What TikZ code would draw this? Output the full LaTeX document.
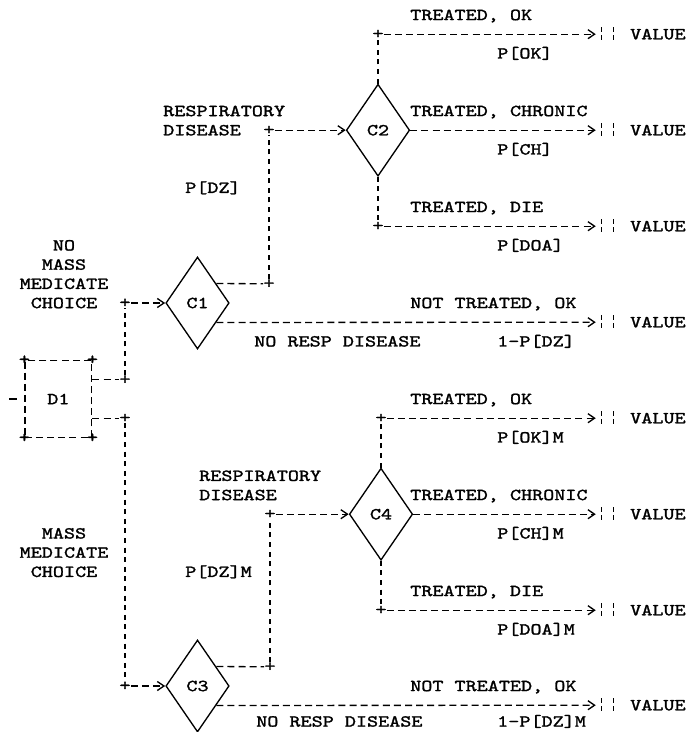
\documentclass[tikz,border=0pt]{standalone}
\usepackage{fontspec}
\usetikzlibrary{shapes.geometric,arrows.meta}
\newfontfamily\prt{lmmono10-regular.otf}[FakeStretch=1.26,FakeBold=1.6]

\begin{document}
\begin{tikzpicture}[x=0.3mm, y=-0.3mm,
    font=\prt\fontsize{14.3pt}{16.4pt}\selectfont,
    lbl/.style={inner sep=0pt, anchor=west, text height=8.7pt, text depth=0pt},
    blk/.style={inner sep=0pt, align=center},
    chance/.style={diamond, draw, line width=0.4mm, minimum width=19mm,
                   minimum height=27.6mm, inner sep=0pt},
    choice/.style={draw, line width=0.4mm, dash pattern=on 2.1mm off 1.23mm,
                   minimum width=20mm, minimum height=23mm, inner sep=0pt},
    plus/.style={inner sep=0pt},
    hlink/.style={line width=0.4mm, dash pattern=on 2.1mm off 1.23mm},
    vlink/.style={line width=0.4mm, dash pattern=on 1.5mm off 1.38mm},
    arr/.style={hlink, -{Straight Barb[length=2mm, width=2.7mm]}},
    tarr/.style={arr, shorten >=1.8mm},
    bar/.style={line width=0.4mm, dash pattern=on 1.5mm off 0.9mm},
    term/.style={minimum width=3.3mm, minimum height=3.9mm, inner sep=0pt,
      append after command={(\tikzlastnode.north west) edge[bar] (\tikzlastnode.south west)
                            (\tikzlastnode.north east) edge[bar] (\tikzlastnode.south east)}}
  ]
  \useasboundingbox (0,0) rectangle (692,732);
  % Decision and chance nodes
  \node[choice] (D1) at (58.4,399) {D1};
  \foreach \a [count=\k] in {north west,north east,south west,south east}
    \node[plus] (c\k) at (D1.\a) {+};
  \node[chance] (C1) at (197.5,303)   {C1};
  \node[chance] (C2) at (378,130.2)   {C2};
  \node[chance] (C3) at (197.5,686)   {C3};
  \node[chance] (C4) at (381,514.2)   {C4};
  % Junctions
  \node[plus] (jA) at (125,379.8) {+};
  \node[plus] (jB) at (125,418.2) {+};
  \node[plus] (jC) at (125,303)   {+};
  \node[plus] (jD) at (125,686)   {+};
  \node[plus] (jE) at (269,283.8) {+};
  \node[plus] (jF) at (269,130.2) {+};
  \node[plus] (jG) at (378,34.2)  {+};
  \node[plus] (jH) at (378,226.2) {+};
  \node[plus] (jI) at (270,666.8) {+};
  \node[plus] (jJ) at (270,514.2) {+};
  \node[plus] (jK) at (381,418.2) {+};
  \node[plus] (jL) at (381,610.2) {+};
  \coordinate (root) at (9,399);
  % Outcomes
  \foreach \r [count=\i] in {34.2,130.2,226.2,322.2,418.2,514.2,610.2,705.2} {
    \node[term] (t\i) at (607.5,\r) {};
    \node[lbl] (v\i) at (630,\r) {VALUE};
  }
  % Labels
  \node[lbl] (okA)   at (410,15)    {TREATED, OK};
  \node[lbl] (pokA)  at (497,53.4)  {P[OK]};
  \node[blk, anchor=west, align=left] (rdA) at (163,120.6) {RESPIRATORY\\DISEASE};
  \node[lbl] (chA)   at (410,111)   {TREATED, CHRONIC};
  \node[lbl] (pchA)  at (497,149.4) {P[CH]};
  \node[lbl] (pdzA)  at (185,187.8) {P[DZ]};
  \node[lbl] (dieA)  at (410,207)   {TREATED, DIE};
  \node[lbl] (pdieA) at (497,245.4) {P[DOA]};
  \node[blk] (nomm)  at (64,274.2)  {NO\\MASS\\MEDICATE\\CHOICE};
  \node[lbl] (ntA)   at (410,303)   {NOT TREATED, OK};
  \node[lbl] (nrA)   at (254,341.4) {NO RESP DISEASE};
  \node[lbl] (pndA)  at (497,341.4) {1-P[DZ]};
  \node[lbl] (okB)   at (410,399)   {TREATED, OK};
  \node[lbl] (pokB)  at (497,437.4) {P[OK]M};
  \node[blk, anchor=west, align=left] (rdB) at (199,485.4) {RESPIRATORY\\DISEASE};
  \node[lbl] (chB)   at (410,495)   {TREATED, CHRONIC};
  \node[lbl] (pchB)  at (497,533.4) {P[CH]M};
  \node[blk] (mm)    at (64,552.6)  {MASS\\MEDICATE\\CHOICE};
  \node[lbl] (pdzB)  at (185,571.8) {P[DZ]M};
  \node[lbl] (dieB)  at (410,591)   {TREATED, DIE};
  \node[lbl] (pdieB) at (497,629.4) {P[DOA]M};
  \node[lbl] (ntB)   at (410,686)   {NOT TREATED, OK};
  \node[lbl] (nrB)   at (256,721.5) {NO RESP DISEASE};
  \node[lbl] (pndB)  at (497,721.5) {1-P[DZ]M};
  % Choice branches
  \draw[hlink, dash pattern=on 2.4mm off 6mm] (root) -- (D1.west);
  \draw[hlink] (D1.east |- jA) -- (jA);
  \draw[vlink] (jA) -- (jC);
  \draw[arr]   (jC) -- (C1.west);
  \draw[hlink] (D1.east |- jB) -- (jB);
  \draw[vlink] (jB) -- (jD);
  \draw[arr]   (jD) -- (C3.west);
  % No mass medication
  \draw[hlink] (C1.46) -- (jE);
  \draw[vlink] (jE) -- (jF);
  \draw[arr]   (jF) -- (C2.west);
  \draw[tarr]  (C1.-46) -- (t4);
  \draw[vlink] (C2.north) -- (jG);
  \draw[tarr]  (jG) -- (t1);
  \draw[tarr]  (C2.east) -- (t2);
  \draw[vlink] (C2.south) -- (jH);
  \draw[tarr]  (jH) -- (t3);
  % Mass medication
  \draw[hlink] (C3.46) -- (jI);
  \draw[vlink] (jI) -- (jJ);
  \draw[arr]   (jJ) -- (C4.west);
  \draw[tarr]  (C3.-46) -- (t8);
  \draw[vlink] (C4.north) -- (jK);
  \draw[tarr]  (jK) -- (t5);
  \draw[tarr]  (C4.east) -- (t6);
  \draw[vlink] (C4.south) -- (jL);
  \draw[tarr]  (jL) -- (t7);
\end{tikzpicture}
\end{document}
